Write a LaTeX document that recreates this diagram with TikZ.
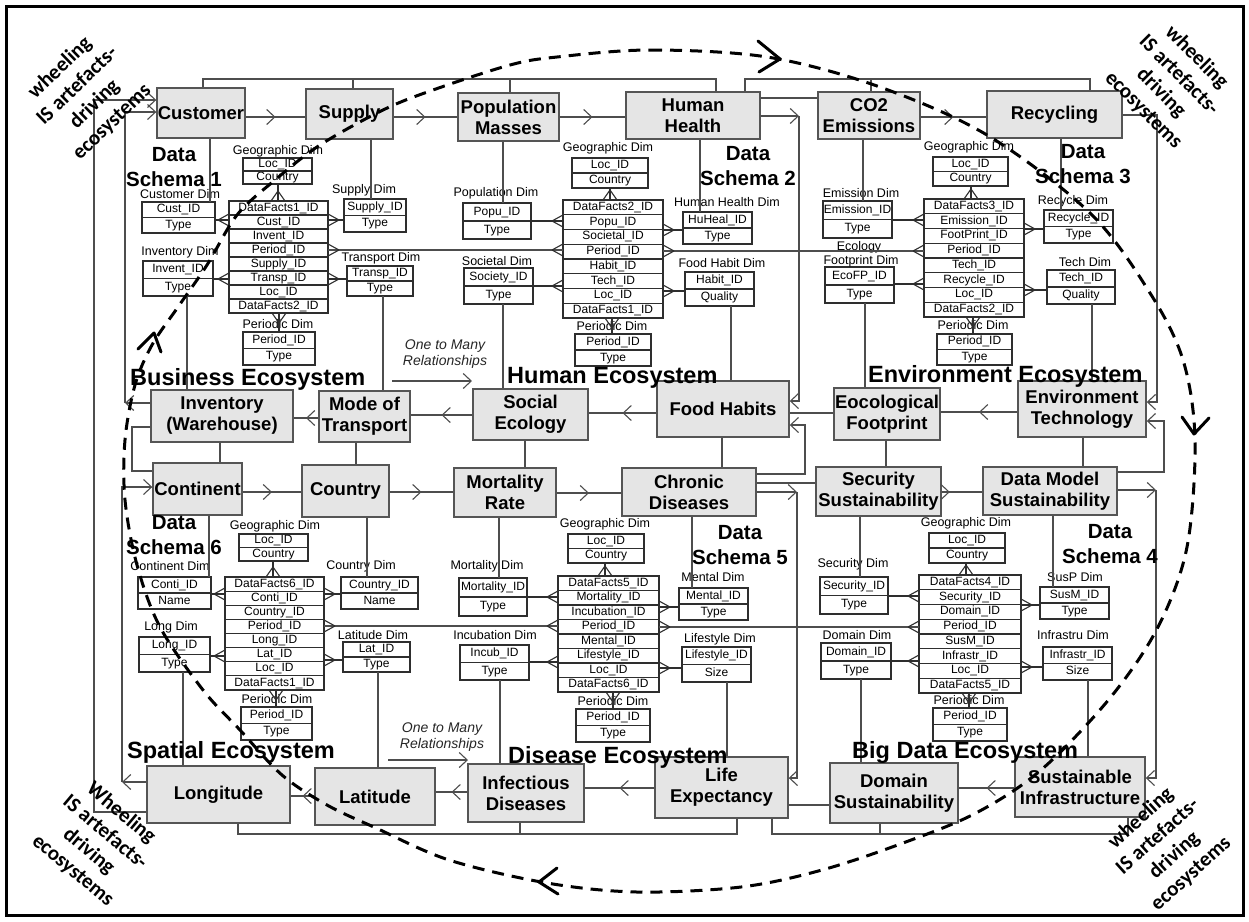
\documentclass[tikz,border=0pt]{standalone}
\usepackage{fontspec}
\setmainfont{Liberation Sans}
\newfontfamily\carlfont{Carlito}
\usetikzlibrary{arrows.meta,decorations.markings}
\definecolor{boxfill}{HTML}{E5E5E5}
\definecolor{boxline}{HTML}{555555}
\definecolor{connc}{HTML}{4D4D4D}
\definecolor{tlinec}{HTML}{2E2E2E}
\tikzset{
  mainb/.style={draw=boxline, fill=boxfill, line width=1.4pt, inner sep=0pt, align=center, font=\fontsize{18.5}{21}\selectfont\bfseries},
  conn/.style={draw=connc, line width=1.1pt},
  tl/.style={draw=tlinec, line width=1.1pt},
  toarr/.style={-{Straight Barb[length=8pt,width=15pt]}},
  midarr/.style={postaction={decorate}, decoration={markings, mark=at position #1 with {\arrow{Straight Barb[length=8pt,width=15pt]}}}},
  midarr/.default=0.5,
  tbltext/.style={font=\fontsize{12}{12}\selectfont, inner sep=0pt, text height=8.6pt, text depth=2.4pt},
  dimlab/.style={font=\fontsize{12.5}{13}\selectfont, inner sep=0pt},
  dslab/.style={font=\fontsize{20.5}{24.5}\selectfont\bfseries, align=center, inner sep=0pt},
  ecolab/.style={font=\fontsize{23.5}{26}\selectfont\bfseries, inner sep=0pt, anchor=base west},
  otm/.style={font=\fontsize{14}{15.5}\selectfont\itshape, align=center, inner sep=0pt, text=black!85},
  corner/.style={font=\carlfont\bfseries\fontsize{21}{25}\selectfont, align=center, inner sep=0pt},
  wheel/.style={draw=black, line width=3pt, dash pattern=on 12pt off 8pt},
  wheelarr/.style={draw=black, line width=3pt, line cap=round, line join=round},
}
\newcommand\mb[6]{\node[mainb, minimum width={#4pt-#2pt}, minimum height={#5pt-#3pt}] (#1) at ({(#2+#4)/2},{(#3+#5)/2}) {#6};}
\newcommand\tbl[7]{%
  \node[tl, fill=white, minimum width={#4pt-#2pt}, minimum height={#5pt-#3pt}, inner sep=0pt, outer sep=0pt] (#1) at ({(#2+#4)/2},{(#3+#5)/2}) {};
  \pgfmathsetmacro\tblrh{(#5-#3)/#6}%
  \foreach \tbx [count=\ii] in {#7} {%
    \pgfmathsetmacro\tyc{#3+(\ii-0.5)*\tblrh}%
    \node[tbltext] (#1-\ii) at ({(#2+#4)/2},\tyc) {\tbx};
    \ifnum\ii>1 \pgfmathsetmacro\tyd{#3+(\ii-1)*\tblrh}\draw[tl] (#2,\tyd) -- (#4,\tyd);\fi
  }%
}
\newcommand\crowL[2]{\draw[tl] ({#1-11},#2) -- (#1,{#2-6}) ({#1-11},#2) -- (#1,{#2+6});}
\newcommand\crowR[2]{\draw[tl] ({#1+11},#2) -- (#1,{#2-6}) ({#1+11},#2) -- (#1,{#2+6});}
\newcommand\crowT[2]{\draw[tl] (#1,{#2-10}) -- ({#1-7},#2) (#1,{#2-10}) -- ({#1+7},#2);}
\newcommand\crowB[2]{\draw[tl] (#1,{#2+10}) -- ({#1-7},#2) (#1,{#2+10}) -- ({#1+7},#2);}
\begin{document}
\begin{tikzpicture}[x=1pt,y=-1pt]
\useasboundingbox (0,0) rectangle (1249,921);
\fill[white] (0,0) rectangle (1249,921);
\draw[line width=3pt] (6,6) rectangle (1243,915);

% ---------- main boxes ----------
\mb{cust}{157}{88}{245}{138}{Customer}
\mb{supp}{306}{89}{393}{139}{Supply}
\mb{pop}{458}{93}{559}{141}{Population\\Masses}
\mb{hh}{626}{92}{760}{139}{Human\\Health}
\mb{co2}{818}{92}{920}{139}{CO2\\Emissions}
\mb{rec}{987}{91}{1122}{138}{Recycling}
\mb{inv}{151}{390}{293}{442}{Inventory\\(Warehouse)}
\mb{mot}{319}{391}{410}{442}{Mode of\\Transport}
\mb{soc}{473}{389}{588}{440}{Social\\Ecology}
\mb{food}{657}{381}{789}{437}{Food Habits}
\mb{eco}{834}{388}{940}{440}{Eocological\\Footprint}
\mb{env}{1018}{381}{1146}{437}{Environment\\Technology}
\mb{cont}{153}{463}{242}{515}{Continent}
\mb{ctry}{302}{465}{389}{517}{Country}
\mb{mort}{454}{468}{556}{517}{Mortality\\Rate}
\mb{chron}{622}{468}{756}{516}{Chronic\\Diseases}
\mb{sec}{816}{467}{941}{516}{Security\\Sustainability}
\mb{dms}{983}{467}{1117}{515}{Data Model\\Sustainability}
\mb{long}{147}{766}{290}{823}{Longitude}
\mb{lat}{315}{768}{435}{825}{Latitude}
\mb{inf}{468}{764}{584}{822}{Infectious\\Diseases}
\mb{life}{655}{757}{788}{818}{Life\\Expectancy}
\mb{dom}{830}{763}{958}{823}{Domain\\Sustainability}
\mb{sust}{1015}{757}{1145}{817}{Sustainable\\Infrastructure}

% ---------- tables ----------
% schema 1
\tbl{geo1}{243}{158}{312}{184}{2}{Loc\_ID,Country}
\tbl{cdim}{142}{202}{215}{233}{2}{Cust\_ID,Type}
\tbl{fact1}{229}{201}{328}{313}{8}{DataFacts1\_ID,Cust\_ID,Invent\_ID,Period\_ID,Supply\_ID,Transp\_ID,Loc\_ID,DataFacts2\_ID}
\tbl{sdim}{344}{199}{406}{232}{2}{Supply\_ID,Type}
\tbl{idim}{143}{261}{213}{296}{2}{Invent\_ID,Type}
\tbl{tdim}{347}{266}{413}{296}{2}{Transp\_ID,Type}
\tbl{per1}{243}{332}{315}{365}{2}{Period\_ID,Type}
% schema 2
\tbl{geo2}{572}{158}{648}{188}{2}{Loc\_ID,Country}
\tbl{pdim}{463}{203}{531}{239}{2}{Popu\_ID,Type}
\tbl{fact2}{563}{200}{663}{318}{8}{DataFacts2\_ID,Popu\_ID,Societal\_ID,Period\_ID,Habit\_ID,Tech\_ID,Loc\_ID,DataFacts1\_ID}
\tbl{hhdim}{683}{212}{752}{244}{2}{HuHeal\_ID,Type}
\tbl{sodim}{464}{268}{533}{304}{2}{Society\_ID,Type}
\tbl{fhdim}{685}{272}{754}{306}{2}{Habit\_ID,Quality}
\tbl{per2}{575}{334}{651}{366}{2}{Period\_ID,Type}
% schema 3
\tbl{geo3}{933}{157}{1008}{186}{2}{Loc\_ID,Country}
\tbl{emdim}{823}{201}{892}{238}{2}{Emission\_ID,Type}
\tbl{fact3}{924}{199}{1024}{317}{8}{DataFacts3\_ID,Emission\_ID,FootPrint\_ID,Period\_ID,Tech\_ID,Recycle\_ID,Loc\_ID,DataFacts2\_ID}
\tbl{rcdim}{1044}{210}{1113}{243}{2}{Recycle\_ID,Type}
\tbl{efdim}{825}{267}{894}{303}{2}{EcoFP\_ID,Type}
\tbl{tcdim}{1047}{270}{1115}{304}{2}{Tech\_ID,Quality}
\tbl{per3}{937}{334}{1012}{365}{2}{Period\_ID,Type}
% schema 6
\tbl{geo6}{239}{534}{308}{561}{2}{Loc\_ID,Country}
\tbl{codim}{138}{577}{211}{609}{2}{Conti\_ID,Name}
\tbl{fact6}{225}{577}{324}{690}{8}{DataFacts6\_ID,Conti\_ID,Country\_ID,Period\_ID,Long\_ID,Lat\_ID,Loc\_ID,DataFacts1\_ID}
\tbl{cydim}{341}{577}{418}{609}{2}{Country\_ID,Name}
\tbl{lodim}{139}{637}{210}{672}{2}{Long\_ID,Type}
\tbl{ladim}{343}{642}{410}{672}{2}{Lat\_ID,Type}
\tbl{per6}{241}{707}{312}{740}{2}{Period\_ID,Type}
% schema 5
\tbl{geo5}{568}{534}{644}{563}{2}{Loc\_ID,Country}
\tbl{modim}{459}{578}{527}{616}{2}{Mortality\_ID,Type}
\tbl{fact5}{558}{576}{659}{692}{8}{DataFacts5\_ID,Mortality\_ID,Incubation\_ID,Period\_ID,Mental\_ID,Lifestyle\_ID,Loc\_ID,DataFacts6\_ID}
\tbl{mndim}{679}{588}{748}{620}{2}{Mental\_ID,Type}
\tbl{icdim}{460}{645}{529}{680}{2}{Incub\_ID,Type}
\tbl{lsdim}{682}{647}{751}{682}{2}{Lifestyle\_ID,Size}
\tbl{per5}{576}{709}{650}{742}{2}{Period\_ID,Type}
% schema 4
\tbl{geo4}{929}{533}{1005}{563}{2}{Loc\_ID,Country}
\tbl{scdim}{820}{577}{888}{614}{2}{Security\_ID,Type}
\tbl{fact4}{919}{575}{1021}{693}{8}{DataFacts4\_ID,Security\_ID,Domain\_ID,Period\_ID,SusM\_ID,Infrastr\_ID,Loc\_ID,DataFacts5\_ID}
\tbl{spdim}{1040}{587}{1109}{619}{2}{SusM\_ID,Type}
\tbl{dmdim}{821}{643}{891}{679}{2}{Domain\_ID,Type}
\tbl{irdim}{1043}{647}{1112}{680}{2}{Infrastr\_ID,Size}
\tbl{per4}{933}{708}{1007}{741}{2}{Period\_ID,Type}

% ---------- dim labels ----------
\node[dimlab] (l1a) at (278,151) {Geographic Dim};
\node[dimlab] (l1b) at (180,194) {Customer Dim};
\node[dimlab] (l1c) at (364,190) {Supply Dim};
\node[dimlab] (l1d) at (180,252) {Inventory Dim};
\node[dimlab] (l1e) at (381,258) {Transport Dim};
\node[dimlab] (l1f) at (278,324) {Periodic Dim};
\node[dimlab] (l2a) at (608,148) {Geographic Dim};
\node[dimlab] (l2b) at (496,193) {Population Dim};
\node[dimlab] (l2c) at (727,202) {Human Health Dim};
\node[dimlab] (l2d) at (497,261) {Societal Dim};
\node[dimlab] (l2e) at (722,263) {Food Habit Dim};
\node[dimlab] (l2f) at (612,326) {Periodic Dim};
\node[dimlab] (l3a) at (969,147) {Geographic Dim};
\node[dimlab] (l3b) at (861,193) {Emission Dim};
\node[dimlab] (l3c) at (1073,201) {Recycle Dim};
\node[dimlab] (l3d) at (859,247) {Ecology};
\node[dimlab] (l3e) at (861,261) {Footprint Dim};
\node[dimlab] (l3f) at (1085,262) {Tech Dim};
\node[dimlab] (l3g) at (973,325) {Periodic Dim};
\node[dimlab] (l6a) at (275,526) {Geographic Dim};
\node[dimlab] (l6b) at (170,566) {Continent Dim};
\node[dimlab] (l6c) at (361,566) {Country Dim};
\node[dimlab] (l6d) at (171,627) {Long Dim};
\node[dimlab] (l6e) at (373,635) {Latitude Dim};
\node[dimlab] (l6f) at (277,699) {Periodic Dim};
\node[dimlab] (l5a) at (605,524) {Geographic Dim};
\node[dimlab] (l5b) at (487,566) {Mortality Dim};
\node[dimlab] (l5c) at (713,577) {Mental Dim};
\node[dimlab] (l5d) at (495,635) {Incubation Dim};
\node[dimlab] (l5e) at (720,639) {Lifestyle Dim};
\node[dimlab] (l5f) at (613,701) {Periodic Dim};
\node[dimlab] (l4a) at (966,523) {Geographic Dim};
\node[dimlab] (l4b) at (853,564) {Security Dim};
\node[dimlab] (l4c) at (1075,577) {SusP Dim};
\node[dimlab] (l4d) at (857,635) {Domain Dim};
\node[dimlab] (l4e) at (1073,635) {Infrastru Dim};
\node[dimlab] (l4f) at (969,700) {Periodic Dim};

% ---------- star-schema links ----------
% schema 1
\draw[tl] (cdim.east |- 0,220) -- (fact1.west |- 0,220); \crowL{229}{220}
\draw[tl] (fact1.east |- 0,220) -- (sdim.west |- 0,220); \crowR{328}{220}
\draw[tl] (idim.east |- 0,279) -- (fact1.west |- 0,279); \crowL{229}{279}
\draw[tl] (fact1.east |- 0,279) -- (tdim.west |- 0,279); \crowR{328}{279}
\draw[tl] (geo1.south -| 278,0) -- (fact1.north -| 278,0); \crowT{278}{201}
\draw[tl] (fact1.south -| 279,0) -- (per1.north -| 279,0); \crowB{279}{313}
% schema 2
\draw[tl] (pdim.east |- 0,221) -- (fact2.west |- 0,221); \crowL{563}{221}
\draw[tl] (fact2.east |- 0,230) -- (hhdim.west |- 0,230); \crowR{663}{230}
\draw[tl] (sodim.east |- 0,286) -- (fact2.west |- 0,286); \crowL{563}{286}
\draw[tl] (fact2.east |- 0,291) -- (fhdim.west |- 0,291); \crowR{663}{291}
\draw[tl] (geo2.south -| 610,0) -- (fact2.north -| 610,0); \crowT{610}{200}
\draw[tl] (fact2.south -| 612,0) -- (per2.north -| 612,0); \crowB{612}{318}
% schema 3
\draw[tl] (emdim.east |- 0,220) -- (fact3.west |- 0,220); \crowL{924}{220}
\draw[tl] (fact3.east |- 0,229) -- (rcdim.west |- 0,229); \crowR{1024}{229}
\draw[tl] (efdim.east |- 0,284) -- (fact3.west |- 0,284); \crowL{924}{284}
\draw[tl] (fact3.east |- 0,290) -- (tcdim.west |- 0,290); \crowR{1024}{290}
\draw[tl] (geo3.south -| 971,0) -- (fact3.north -| 971,0); \crowT{971}{199}
\draw[tl] (fact3.south -| 973,0) -- (per3.north -| 973,0); \crowB{973}{317}
% period line top
\draw[conn] (fact1.east |- 0,250) -- (fact2.west |- 0,250); \crowR{328}{250} \crowL{563}{250}
\draw[conn] (fact2.east |- 0,251) -- (fact3.west |- 0,251); \crowR{663}{251} \crowL{924}{251}
% schema 6
\draw[tl] (codim.east |- 0,594) -- (fact6.west |- 0,594); \crowL{225}{594}
\draw[tl] (fact6.east |- 0,594) -- (cydim.west |- 0,594); \crowR{324}{594}
\draw[tl] (lodim.east |- 0,656) -- (fact6.west |- 0,656); \crowL{225}{656}
\draw[tl] (fact6.east |- 0,660) -- (ladim.west |- 0,660); \crowR{324}{660}
\draw[tl] (geo6.south -| 273,0) -- (fact6.north -| 273,0); \crowT{273}{577}
\draw[tl] (fact6.south -| 276,0) -- (per6.north -| 276,0); \crowB{276}{690}
% schema 5
\draw[tl] (modim.east |- 0,597) -- (fact5.west |- 0,597); \crowL{558}{597}
\draw[tl] (fact5.east |- 0,607) -- (mndim.west |- 0,607); \crowR{659}{607}
\draw[tl] (icdim.east |- 0,662) -- (fact5.west |- 0,662); \crowL{558}{662}
\draw[tl] (fact5.east |- 0,668) -- (lsdim.west |- 0,668); \crowR{659}{668}
\draw[tl] (geo5.south -| 605,0) -- (fact5.north -| 605,0); \crowT{605}{576}
\draw[tl] (fact5.south -| 613,0) -- (per5.north -| 613,0); \crowB{613}{692}
% schema 4
\draw[tl] (scdim.east |- 0,596) -- (fact4.west |- 0,596); \crowL{919}{596}
\draw[tl] (fact4.east |- 0,605) -- (spdim.west |- 0,605); \crowR{1021}{605}
\draw[tl] (dmdim.east |- 0,661) -- (fact4.west |- 0,661); \crowL{919}{661}
\draw[tl] (fact4.east |- 0,667) -- (irdim.west |- 0,667); \crowR{1021}{667}
\draw[tl] (geo4.south -| 966,0) -- (fact4.north -| 966,0); \crowT{966}{575}
\draw[tl] (fact4.south -| 969,0) -- (per4.north -| 969,0); \crowB{969}{693}
% period line bottom
\draw[conn] (fact6.east |- 0,626) -- (fact5.west |- 0,626); \crowR{324}{626} \crowL{558}{626}
\draw[conn] (fact5.east |- 0,627) -- (fact4.west |- 0,627); \crowR{659}{627} \crowL{919}{627}

% ---------- box to dim links ----------
\draw[conn] (cust.south -| 210,0) -- (cdim.north -| 210,0);
\draw[conn] (supp.south -| 371,0) -- (sdim.north -| 371,0);
\draw[conn] (idim.south -| 187,0) -- (inv.north -| 187,0);
\draw[conn] (tdim.south -| 383,0) -- (mot.north -| 383,0);
\draw[conn] (pop.south -| 503,0) -- (pdim.north -| 503,0);
\draw[conn] (hh.south -| 700,0) -- (hhdim.north -| 700,0);
\draw[conn] (sodim.south -| 503,0) -- (soc.north -| 503,0);
\draw[conn] (fhdim.south -| 731,0) -- (food.north -| 731,0);
\draw[conn] (co2.south -| 863,0) -- (emdim.north -| 863,0);
\draw[conn] (rec.south -| 1061,0) -- (rcdim.north -| 1061,0);
\draw[conn] (efdim.south -| 865,0) -- (eco.north -| 865,0);
\draw[conn] (tcdim.south -| 1092,0) -- (env.north -| 1092,0);
\draw[conn] (cont.south -| 209,0) -- (codim.north -| 209,0);
\draw[conn] (ctry.south -| 367,0) -- (cydim.north -| 367,0);
\draw[conn] (lodim.south -| 183,0) -- (long.north -| 183,0);
\draw[conn] (ladim.south -| 378,0) -- (lat.north -| 378,0);
\draw[conn] (mort.south -| 499,0) -- (modim.north -| 499,0);
\draw[conn] (chron.south -| 692,0) -- (mndim.north -| 692,0);
\draw[conn] (icdim.south -| 500,0) -- (inf.north -| 500,0);
\draw[conn] (lsdim.south -| 727,0) -- (life.north -| 727,0);
\draw[conn] (sec.south -| 860,0) -- (scdim.north -| 860,0);
\draw[conn] (dms.south -| 1053,0) -- (spdim.north -| 1053,0);
\draw[conn] (dmdim.south -| 861,0) -- (dom.north -| 861,0);
\draw[conn] (irdim.south -| 1088,0) -- (sust.north -| 1088,0);

% ---------- ecosystem connectors ----------
% top buses
\draw[conn] (cust.north -| 203,0) -- (203,79) -- (716,79) -- (hh.north -| 716,0);
\draw[conn] (353,79) -- (supp.north -| 353,0);
\draw[conn] (510,79) -- (pop.north -| 510,0);
\draw[conn] (hh.north -| 745,0) -- (745,79) -- (1090,79) -- (rec.north -| 1090,0);
\draw[conn] (871,79) -- (co2.north -| 871,0);
% row 1
\draw[conn, midarr] (cust.east |- 0,117) -- (supp.west |- 0,117);
\draw[conn, midarr] (supp.east |- 0,117) -- (pop.west |- 0,117);
\draw[conn, midarr] (pop.east |- 0,117) -- (hh.west |- 0,117);
\draw[conn] (hh.east |- 0,98) -- (co2.west |- 0,98);
\draw[conn, midarr] (co2.east |- 0,117) -- (rec.west |- 0,117);
\draw[conn, toarr] (hh.east |- 0,116) -- (799,116);
\draw[conn, toarr] (799,116) -- (799,401) -- (food.east |- 0,401);
\draw[conn, toarr] (rec.east |- 0,115) -- (1157,115) -- (1157,402) -- (env.east |- 0,402);
% left side
\draw[conn, toarr] (long.west |- 0,812) -- (94,812) -- (94,100) -- (cust.west |- 0,100);
\draw[conn, toarr] (inv.west |- 0,403) -- (125,403);
\draw[conn, toarr] (125,403) -- (125,112) -- (cust.west |- 0,112);
\draw[conn] (inv.west |- 0,427) -- (132,427) -- (132,471) -- (cont.west |- 0,471);
\draw[conn, toarr] (long.west |- 0,782) -- (122,782);
\draw[conn, toarr] (122,782) -- (122,487) -- (cont.west |- 0,487);
% row 2
\draw[conn, midarr] (env.west |- 0,412) -- (eco.east |- 0,412);
\draw[conn] (eco.west |- 0,413) -- (food.east |- 0,413);
\draw[conn, midarr] (food.west |- 0,413) -- (soc.east |- 0,413);
\draw[conn, midarr] (soc.west |- 0,415) -- (mot.east |- 0,415);
\draw[conn, midarr] (mot.west |- 0,418) -- (inv.east |- 0,418);
\draw[conn, toarr] (chron.east |- 0,474) -- (805,474) -- (805,425) -- (food.east |- 0,425);
% row 2 to row 3
\draw[conn] (inv.south -| 220,0) -- (cont.north -| 220,0);
\draw[conn] (mot.south -| 356,0) -- (ctry.north -| 356,0);
\draw[conn] (soc.south -| 525,0) -- (mort.north -| 525,0);
\draw[conn] (food.south -| 722,0) -- (chron.north -| 722,0);
\draw[conn] (eco.south -| 886,0) -- (sec.north -| 886,0);
\draw[conn] (env.south -| 1083,0) -- (dms.north -| 1083,0);
% row 3
\draw[conn, midarr] (cont.east |- 0,492) -- (ctry.west |- 0,492);
\draw[conn, midarr] (ctry.east |- 0,492) -- (mort.west |- 0,492);
\draw[conn, midarr] (mort.east |- 0,493) -- (chron.west |- 0,493);
\draw[conn] (chron.east |- 0,483) -- (sec.west |- 0,483);
\draw[conn, toarr] (chron.east |- 0,492) -- (797,492);
\draw[conn, toarr] (797,492) -- (797,778) -- (life.east |- 0,778);
\draw[conn, midarr=0.2] (sec.east |- 0,492) -- (dms.west |- 0,492);
\draw[conn, toarr] (dms.east |- 0,472) -- (1164,472) -- (1164,421) -- (env.east |- 0,421);
\draw[conn, toarr] (dms.east |- 0,490) -- (1156,490);
\draw[conn, toarr] (1156,490) -- (1156,778) -- (sust.east |- 0,778);
% row 4
\draw[conn, midarr] (sust.west |- 0,788) -- (dom.east |- 0,788);
\draw[conn] (life.east |- 0,805) -- (dom.west |- 0,805);
\draw[conn, midarr] (life.west |- 0,788) -- (inf.east |- 0,788);
\draw[conn, midarr] (inf.west |- 0,792) -- (lat.east |- 0,792);
\draw[conn, midarr] (lat.west |- 0,796) -- (long.east |- 0,796);
\draw[conn] (long.south -| 238,0) -- (238,834) -- (737,834) -- (life.south -| 737,0);
\draw[conn] (520,834) -- (inf.south -| 520,0);
\draw[conn] (life.south -| 772,0) -- (772,834) -- (1128,834) -- (sust.south -| 1128,0);
\draw[conn] (880,834) -- (dom.south -| 880,0);

% ---------- titles ----------
\node[dslab] (ds1) at (174,167) {Data\\Schema 1};
\node[dslab] (ds2) at (748,166) {Data\\Schema 2};
\node[dslab] (ds3) at (1083,164) {Data\\Schema 3};
\node[dslab] (ds6) at (174,535) {Data\\Schema 6};
\node[dslab] (ds5) at (740,545) {Data\\Schema 5};
\node[dslab] (ds4) at (1110,544) {Data\\Schema 4};
\node[ecolab] (e1) at (130,385) {Business Ecosystem};
\node[ecolab] (e2) at (507,383) {Human Ecosystem};
\node[ecolab] (e3) at (868,382) {Environment Ecosystem};
\node[ecolab] (e4) at (127,758) {Spatial Ecosystem};
\node[ecolab] (e5) at (508,763) {Disease Ecosystem};
\node[ecolab] (e6) at (852,758) {Big Data Ecosystem};
\node[otm] (otm1) at (445,354) {One to Many\\Relationships};
\coordinate (o1a) at (392,381); \coordinate (o1b) at (472,381);
\draw[conn, toarr] (o1a) -- (o1b);
\node[otm] (otm2) at (442,737) {One to Many\\Relationships};
\coordinate (o2a) at (388,760); \coordinate (o2b) at (468,760);
\draw[conn, toarr] (o2a) -- (o2b);

% ---------- wheel ----------
\draw[wheel] plot[smooth cycle, tension=0.55] coordinates {(557,57) (650,50) (767,57) (877,86) (987,135) (1090,213) (1150,293) (1183,360) (1195,440) (1187,547) (1158,627) (1110,698) (1041,770) (976,813) (903,843) (822,870) (741,887) (637,892) (547,883) (449,860) (376,828) (327,805) (282,775) (240,730) (203,690) (160,627) (137,565) (125,500) (125,440) (135,385) (152,345) (178,307) (207,265) (237,215) (275,180) (320,145) (383,110) (433,90) (510,65)};
\draw[wheelarr] (758,41) -- (780,59) -- (759,72);
\draw[wheelarr] (1182,417) -- (1194,434) -- (1209,418);
\draw[wheelarr] (557,868) -- (539,882) -- (558,894);
\draw[wheelarr] (138,349) -- (154,333) -- (161,352);

% ---------- corner texts ----------
\node[corner, rotate=44] (ctl) at (86,95) {wheeling\\IS artefacts-\\driving\\ecosystems};
\node[corner, rotate=-45] (ctr) at (1170,84) {wheeling\\IS artefacts-\\driving\\ecosystems};
\node[corner, rotate=-40] (cbl) at (97,842) {Wheeling\\IS artefacts-\\driving\\ecosystems};
\node[corner, rotate=42] (cbr) at (1166,846) {wheeling\\IS artefacts-\\driving\\ecosystems};
\end{tikzpicture}
\end{document}
